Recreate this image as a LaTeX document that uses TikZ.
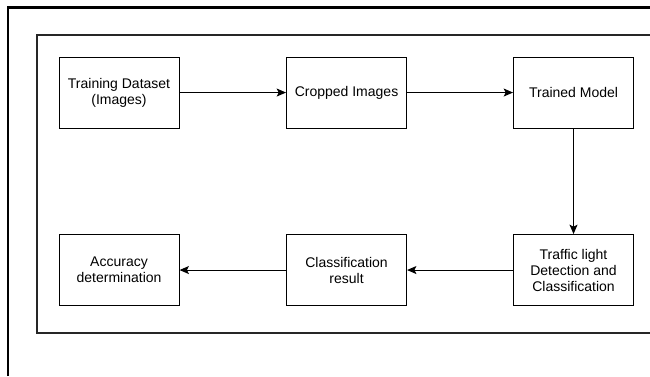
\documentclass[tikz,border=0pt]{standalone}
\usepackage{fontspec}
\setmainfont{Liberation Sans}
\usetikzlibrary{arrows.meta}
\begin{document}
\begin{tikzpicture}[x=0.75pt,y=-0.75pt,
  blk/.style={draw, line width=0.8pt, minimum width=90pt, minimum height=53.25pt, inner sep=2pt, align=center, font=\fontsize{10.5}{12}\selectfont, anchor=north west},
  conn/.style={draw, line width=0.75pt, -{Stealth[length=7pt,width=6pt,inset=1.5pt]}}]
\useasboundingbox (0,0) rectangle (650,376);
\draw[line width=1.6pt] (8,376) -- (8,7.5) -- (650,7.5);
\draw[line width=1.5pt, black!85] (650,34.5) -- (37,34.5) -- (37,332.5) -- (650,332.5);
\node[blk] (td) at (58.5,56.5) {Training Dataset\\(Images)};
\node[blk] (ci) at (286,56.5) {Cropped Images};
\node[blk] (tm) at (513,56.5) {Trained Model};
\node[blk] (ad) at (58.5,234) {Accuracy\\determination};
\node[blk] (cr) at (286,234) {Classification\\result};
\node[blk] (tl) at (513,234) {Traffic light\\Detection and\\Classification};
\draw[conn] (td) -- (ci);
\draw[conn] (ci) -- (tm);
\draw[conn] (tm.south) ++(0,0) coordinate (a) -- (a |- tl.north);
\draw[conn] (tl) -- (cr);
\draw[conn] (cr) -- (ad);
\end{tikzpicture}
\end{document}
